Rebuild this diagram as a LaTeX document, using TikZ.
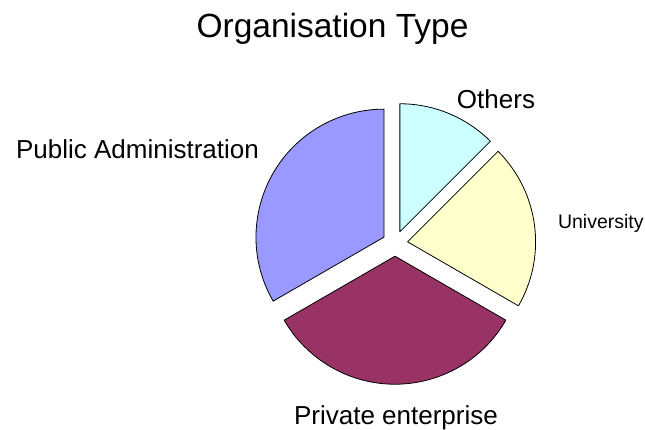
\documentclass[tikz,border=0pt]{standalone}
\usepackage{fontspec}
\setmainfont{Liberation Sans}
\usepackage[]{xcolor}

\definecolor{pubblue}{HTML}{9999FF}
\definecolor{privred}{HTML}{993366}
\definecolor{uniyellow}{HTML}{FFFFCC}
\definecolor{othcyan}{HTML}{CCFFFF}

\begin{document}
\begin{tikzpicture}[x = 1pt, y = 1pt,
  slice/.style = {draw = black, line width = 0.8pt, line join = round},
  lbl/.style = {inner sep = 0pt, anchor = base, font = \fontsize{26}{30}\selectfont}]
\useasboundingbox (0,0) rectangle (645,430);
\node (title) [inner sep = 0pt, anchor = base, font = \fontsize{33.5}{38}\selectfont] at (332.5,392) {Organisation Type};
% exploded slices around the pie centre
\begin{scope}[shift = {(395,186.5)}]
\draw[slice, fill = othcyan] (67.5:12.7pt) -- ++(90:128pt) arc[start angle = 90, end angle = 45, radius = 128pt] -- cycle;
\draw[slice, fill = uniyellow] (7.5:12.7pt) -- ++(45:128pt) arc[start angle = 45, end angle = -30, radius = 128pt] -- cycle;
\draw[slice, fill = privred] (270:12.7pt) -- ++(-30:128pt) arc[start angle = -30, end angle = -150, radius = 128pt] -- cycle;
\draw[slice, fill = pubblue] (150:12.7pt) -- ++(210:128pt) arc[start angle = 210, end angle = 90, radius = 128pt] -- cycle;
\end{scope}
\node (others) [lbl] at (496,321.7) {Others};
\node (univ) [lbl, font = \fontsize{19.5}{23}\selectfont] at (600.8,201.7) {University};
\node (private) [lbl] at (396,5) {Private enterprise};
\node (public) [lbl] at (137.5,271) {Public Administration};
\end{tikzpicture}
\end{document}
